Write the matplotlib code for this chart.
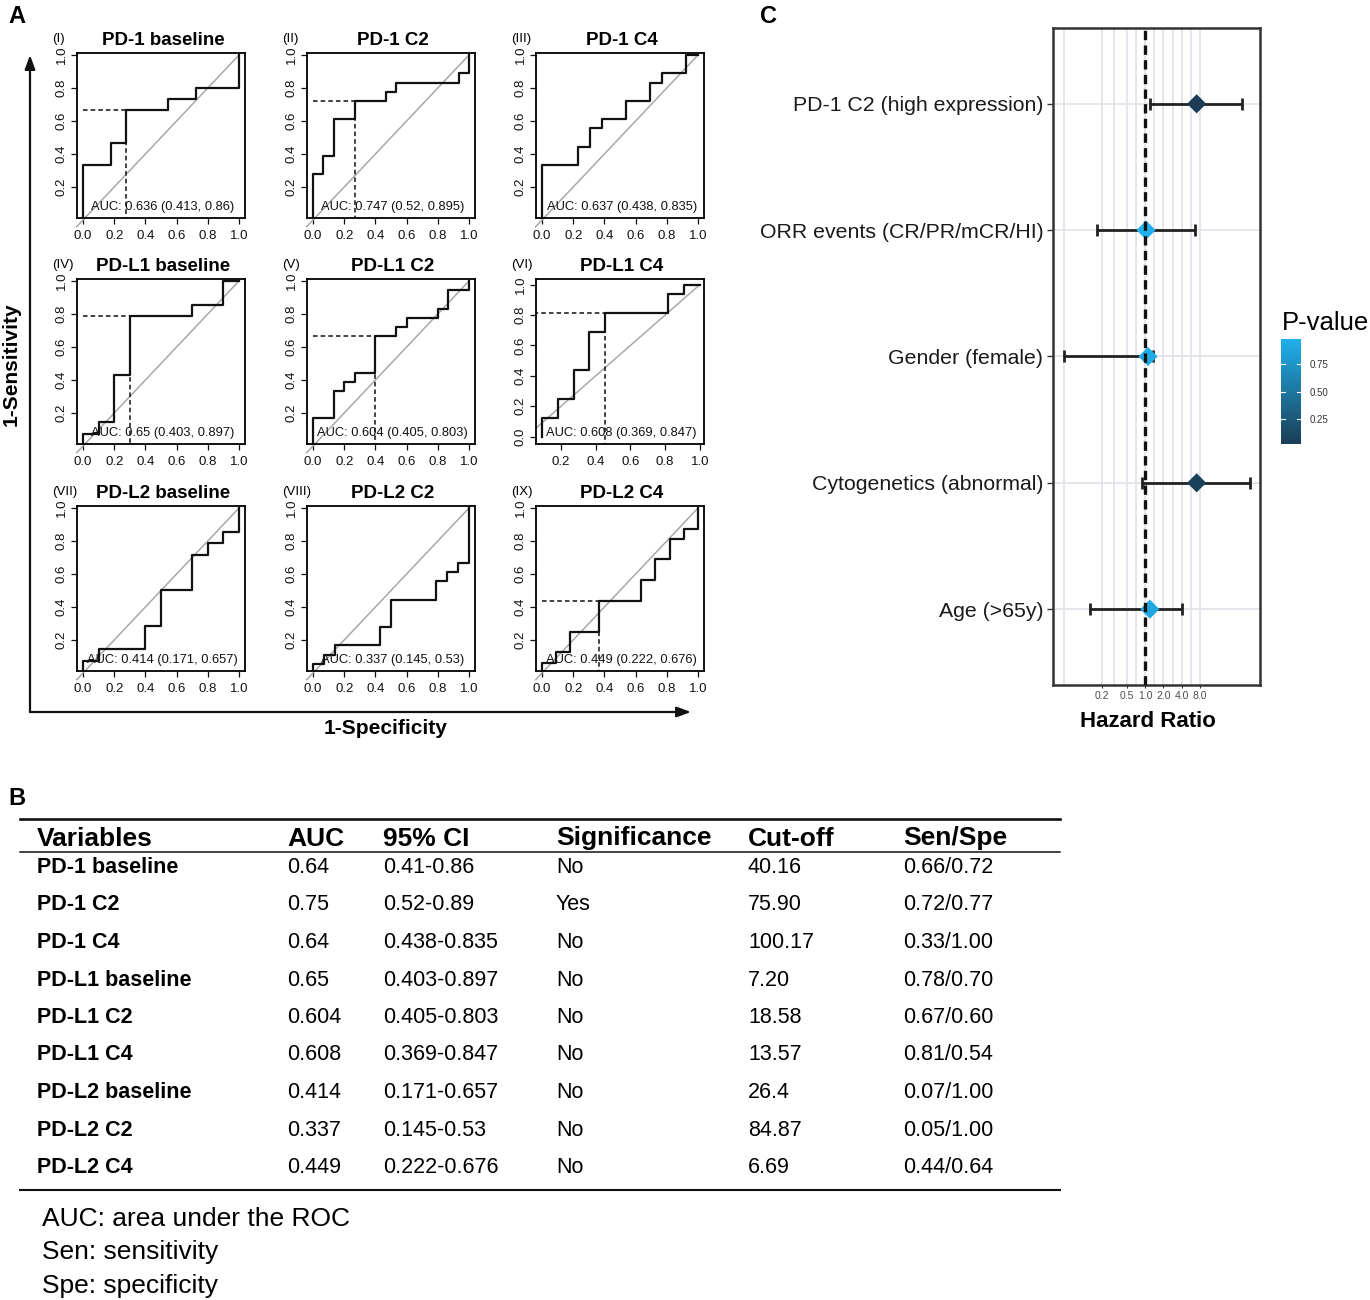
import matplotlib
matplotlib.use("Agg")
import matplotlib.pyplot as plt
from matplotlib.lines import Line2D
from matplotlib.patches import FancyArrowPatch
from matplotlib.colors import LinearSegmentedColormap, Normalize
from matplotlib.cm import ScalarMappable

plt.rcParams['font.family'] = ['Liberation Sans', 'DejaVu Sans']

# ---------------- panel A: ROC curves ----------------
roc_titles = ["PD-1 baseline", "PD-1 C2", "PD-1 C4",
              "PD-L1 baseline", "PD-L1 C2", "PD-L1 C4",
              "PD-L2 baseline", "PD-L2 C2", "PD-L2 C4"]
roc_tags = ["(I)", "(II)", "(III)", "(IV)", "(V)", "(VI)", "(VII)", "(VIII)", "(IX)"]
roc_auc = ["AUC: 0.636 (0.413, 0.86)", "AUC: 0.747 (0.52, 0.895)", "AUC: 0.637 (0.438, 0.835)",
           "AUC: 0.65 (0.403, 0.897)", "AUC: 0.604 (0.405, 0.803)", "AUC: 0.608 (0.369, 0.847)",
           "AUC: 0.414 (0.171, 0.657)", "AUC: 0.337 (0.145, 0.53)", "AUC: 0.449 (0.222, 0.676)"]

fpr_pd1_base = [0, 0, 0.182, 0.182, 0.273, 0.273, 0.545, 0.545, 0.727, 0.727, 1.0, 1.0]
tpr_pd1_base = [0, 0.333, 0.333, 0.467, 0.467, 0.667, 0.667, 0.733, 0.733, 0.8, 0.8, 1.0]
fpr_pd1_c2 = [0, 0, 0.067, 0.067, 0.133, 0.133, 0.267, 0.267, 0.467, 0.467, 0.533, 0.533, 0.933, 0.933, 1.0, 1.0]
tpr_pd1_c2 = [0, 0.278, 0.278, 0.389, 0.389, 0.611, 0.611, 0.722, 0.722, 0.778, 0.778, 0.833, 0.833, 0.889, 0.889, 1.0]
fpr_pd1_c4 = [0, 0, 0.231, 0.231, 0.308, 0.308, 0.385, 0.385, 0.538, 0.538, 0.692, 0.692, 0.769, 0.769, 0.923, 0.923, 1.0]
tpr_pd1_c4 = [0, 0.333, 0.333, 0.444, 0.444, 0.556, 0.556, 0.611, 0.611, 0.722, 0.722, 0.833, 0.833, 0.889, 0.889, 1.0, 1.0]
fpr_pdl1_base = [0, 0, 0.1, 0.1, 0.2, 0.2, 0.3, 0.3, 0.7, 0.7, 0.9, 0.9, 1.0]
tpr_pdl1_base = [0, 0.071, 0.071, 0.143, 0.143, 0.429, 0.429, 0.786, 0.786, 0.857, 0.857, 1.0, 1.0]
fpr_pdl1_c2 = [0, 0, 0.133, 0.133, 0.2, 0.2, 0.267, 0.267, 0.4, 0.4, 0.533, 0.533, 0.6, 0.6, 0.8, 0.8, 0.867, 0.867, 1.0, 1.0]
tpr_pdl1_c2 = [0, 0.167, 0.167, 0.333, 0.333, 0.389, 0.389, 0.444, 0.444, 0.667, 0.667, 0.722, 0.722, 0.778, 0.778, 0.833, 0.833, 0.944, 0.944, 1.0]
fpr_pdl1_c4 = [0.091, 0.091, 0.182, 0.182, 0.273, 0.273, 0.364, 0.364, 0.455, 0.455, 0.818, 0.818, 0.909, 0.909, 1.0]
tpr_pdl1_c4 = [0, 0.125, 0.125, 0.25, 0.25, 0.438, 0.438, 0.688, 0.688, 0.813, 0.813, 0.938, 0.938, 1.0, 1.0]
fpr_pdl2_base = [0, 0, 0.1, 0.1, 0.4, 0.4, 0.5, 0.5, 0.7, 0.7, 0.8, 0.8, 0.9, 0.9, 1.0, 1.0]
tpr_pdl2_base = [0, 0.071, 0.071, 0.143, 0.143, 0.286, 0.286, 0.5, 0.5, 0.714, 0.714, 0.786, 0.786, 0.857, 0.857, 1.0]
fpr_pdl2_c2 = [0, 0, 0.071, 0.071, 0.143, 0.143, 0.429, 0.429, 0.5, 0.5, 0.786, 0.786, 0.857, 0.857, 0.929, 0.929, 1.0, 1.0]
tpr_pdl2_c2 = [0, 0.056, 0.056, 0.111, 0.111, 0.167, 0.167, 0.278, 0.278, 0.444, 0.444, 0.556, 0.556, 0.611, 0.611, 0.667, 0.667, 1.0]
fpr_pdl2_c4 = [0, 0, 0.091, 0.091, 0.182, 0.182, 0.364, 0.364, 0.636, 0.636, 0.727, 0.727, 0.818, 0.818, 0.909, 0.909, 1.0, 1.0]
tpr_pdl2_c4 = [0, 0.063, 0.063, 0.125, 0.125, 0.25, 0.25, 0.438, 0.438, 0.563, 0.563, 0.688, 0.688, 0.813, 0.813, 0.875, 0.875, 1.0]

roc_fpr = [fpr_pd1_base, fpr_pd1_c2, fpr_pd1_c4, fpr_pdl1_base, fpr_pdl1_c2,
           fpr_pdl1_c4, fpr_pdl2_base, fpr_pdl2_c2, fpr_pdl2_c4]
roc_tpr = [tpr_pd1_base, tpr_pd1_c2, tpr_pd1_c4, tpr_pdl1_base, tpr_pdl1_c2,
           tpr_pdl1_c4, tpr_pdl2_base, tpr_pdl2_c2, tpr_pdl2_c4]

# best cut-off point of each curve (1-specificity, sensitivity)
cut_fpr = [0.273, 0.267, 0.0, 0.3, 0.4, 0.455, 0.0, 0.0, 0.364]
cut_tpr = [0.667, 0.722, 0.333, 0.786, 0.667, 0.813, 0.071, 0.056, 0.438]

# ---------------- panel B: table ----------------
tab_header = ["Variables", "AUC", "95% CI", "Significance", "Cut-off", "Sen/Spe"]
tab_vars = ["PD-1 baseline", "PD-1 C2", "PD-1 C4", "PD-L1 baseline", "PD-L1 C2",
            "PD-L1 C4", "PD-L2 baseline", "PD-L2 C2", "PD-L2 C4"]
tab_auc = ["0.64", "0.75", "0.64", "0.65", "0.604", "0.608", "0.414", "0.337", "0.449"]
tab_ci = ["0.41-0.86", "0.52-0.89", "0.438-0.835", "0.403-0.897", "0.405-0.803",
          "0.369-0.847", "0.171-0.657", "0.145-0.53", "0.222-0.676"]
tab_sig = ["No", "Yes", "No", "No", "No", "No", "No", "No", "No"]
tab_cut = ["40.16", "75.90", "100.17", "7.20", "18.58", "13.57", "26.4", "84.87", "6.69"]
tab_senspe = ["0.66/0.72", "0.72/0.77", "0.33/1.00", "0.78/0.70", "0.67/0.60",
              "0.81/0.54", "0.07/1.00", "0.05/1.00", "0.44/0.64"]
footnotes = ["AUC: area under the ROC", "Sen: sensitivity", "Spe: specificity"]

# ---------------- panel C: forest plot ----------------
hr_labels = ["PD-1 C2 (high expression)", "ORR events (CR/PR/mCR/HI)", "Gender (female)",
             "Cytogenetics (abnormal)", "Age (>65y)"]
hr_est = [7.0, 1.04, 1.12, 7.0, 1.2]
hr_low = [1.2, 0.165, 0.047, 0.89, 0.125]
hr_high = [39.0, 6.5, 1.35, 52.0, 4.1]
hr_p = [0.027, 0.973, 0.93, 0.05, 0.90]

W, H = 1370, 1300
fig = plt.figure(figsize=(W / 100, H / 100), dpi=100)


def rect(left, top, width, height):
    return [left / W, 1 - (top + height) / H, width / W, height / H]


def ftext(x, y, s, **kw):
    # small nudge: matplotlib's centred text sits a bit high
    fig.text(x / W, 1 - (y + 2.5) / H, s, **kw)


# ---- A ----
col_x0 = [83, 313, 542]
row_y1 = [55, 281, 508]
ux, uy = 156, 165
ticks = [0.0, 0.2, 0.4, 0.6, 0.8, 1.0]

for i in range(9):
    r, c = divmod(i, 3)
    left = col_x0[c] - 0.04 * ux
    top = row_y1[r] - 0.015 * uy
    ax = fig.add_axes(rect(left, top, 1.08 * ux, uy))
    fpr, tpr = roc_fpr[i], roc_tpr[i]
    if min(fpr) > 0:
        ax.set_xlim(0.055, 1.025)
        ax.set_ylim(-0.045, 1.04)
        ax.plot([0, 1], [0, 1], color='#a8a8a8', lw=1.1)
        xt, yt = ticks[1:], ticks
    else:
        ax.set_xlim(-0.04, 1.04)
        ax.set_ylim(0.015, 1.015)
        ax.plot([-0.04, 1], [-0.04, 1], color='#a8a8a8', lw=1.1, clip_on=False)
        xt, yt = ticks, ticks[1:]
    ax.plot(fpr, tpr, color='#111111', lw=1.6)
    cf, ct = cut_fpr[i], cut_tpr[i]
    ax.plot([0, cf], [ct, ct], color='#111111', lw=1.1, ls=(0, (3, 2)))
    ax.plot([cf, cf], [ct, -0.2], color='#111111', lw=1.1, ls=(0, (3, 2)))
    ax.text(0.51, 0.065, roc_auc[i], transform=ax.transAxes, ha='center', va='center',
            fontsize=9.3, color='#111111')
    ax.set_xticks(xt)
    ax.set_xticklabels(['%.1f' % v for v in xt])
    ax.set_yticks(yt)
    ax.set_yticklabels(['%.1f' % v for v in yt], rotation=90, va='center')
    ax.tick_params(direction='out', length=4, width=0.9, labelsize=9.5,
                   colors='#111111')
    ax.tick_params(axis='x', pad=5)
    ax.tick_params(axis='y', pad=2.5)
    for s in ax.spines.values():
        s.set_linewidth(1.3)
    ftext(col_x0[c] + 0.5 * ux + 2, top - 15, roc_titles[i], ha='center', va='center',
          fontsize=13.5, fontweight='bold')
    ftext(left - 25, top - 16, roc_tags[i], ha='left', va='center', fontsize=9.5)

# big axis arrows of panel A
for end in [(30, 55), (691, 712)]:
    fig.add_artist(FancyArrowPatch((30 / W, 1 - 712 / H), (end[0] / W, 1 - end[1] / H),
                                   transform=fig.transFigure,
                                   arrowstyle='-|>,head_length=0.6,head_width=0.22',
                                   mutation_scale=14, lw=1.6, color='#111111',
                                   shrinkA=0, shrinkB=0))
ftext(11, 362, "1-Sensitivity", rotation=90, ha='center', va='center',
      fontsize=15, fontweight='bold')
ftext(386, 726, "1-Specificity", ha='center', va='center', fontsize=15, fontweight='bold')

# ---- C ----
axc = fig.add_axes(rect(1053, 28, 207, 657))
ypos = list(range(len(hr_labels), 0, -1))
cmap = LinearSegmentedColormap.from_list('pval', ['#1b3d55', '#20b0ec'])
norm = Normalize(0.027, 0.973)
axc.set_xscale('log', base=2)
axc.set_xlim(2 ** -5, 2 ** 6.25)
axc.set_ylim(0.4, len(hr_labels) + 0.6)
axc.set_xticks([0.2, 0.5, 1, 2, 4, 8])
axc.set_xticklabels(['0.2', '0.5', '1.0', '2.0', '4.0', '8.0'])
axc.set_xticks([2 ** -4.4, 2 ** -1.66, 2 ** -0.5, 2 ** 0.5, 2 ** 1.5, 2 ** 2.5], minor=True)
axc.xaxis.set_minor_formatter(plt.NullFormatter())
axc.set_yticks(ypos)
axc.set_yticklabels(hr_labels)
axc.set_axisbelow(True)
axc.grid(which='both', axis='x', color='#e3e3eb', lw=1.3)
axc.grid(which='major', axis='y', color='#e3e3eb', lw=1.3)
axc.tick_params(axis='y', length=4, width=1, colors='#333333', labelsize=15.3,
                labelcolor='#1a1a1a', pad=3)
axc.tick_params(axis='x', which='major', length=2.5, width=0.8, colors='#333333',
                labelsize=7.5, labelcolor='#4d4d4d', pad=2)
axc.tick_params(axis='x', which='minor', length=0)
xerr = [[e - lo for e, lo in zip(hr_est, hr_low)], [hi - e for e, hi in zip(hr_est, hr_high)]]
axc.errorbar(hr_est, ypos, xerr=xerr, fmt='none', ecolor='#222222', elinewidth=2,
             capsize=4, capthick=2, zorder=3)
axc.scatter(hr_est, ypos, c=hr_p, cmap=cmap, norm=norm, marker='D', s=95,
            linewidths=0, zorder=4)
axc.axvline(1, color='#111111', lw=2.4, ls=(0, (2.8, 1.6)), zorder=5)
for s in axc.spines.values():
    s.set_linewidth(1.8)
    s.set_color('#333333')
ftext(1148, 719, "Hazard Ratio", ha='center', va='center', fontsize=16, fontweight='bold')

cax = fig.add_axes(rect(1281, 339, 20, 105))
cb = fig.colorbar(ScalarMappable(norm=norm, cmap=cmap), cax=cax)
cb.outline.set_visible(False)
cb.set_ticks([0.25, 0.5, 0.75])
cb.set_ticklabels(['0.25', '0.50', '0.75'])
cax.tick_params(length=0, labelsize=7, labelcolor='#333333', pad=6)
for v in [0.25, 0.5, 0.75]:
    cax.axhline(v, 0, 0.2, color='white', lw=0.8)
    cax.axhline(v, 0.8, 1, color='white', lw=0.8)
ftext(1282, 320, "P-value", ha='left', va='center', fontsize=18.5)

# ---- B ----
tab_x = [37, 287, 383, 556, 748, 903]
fig.add_artist(Line2D([20 / W, 1060 / W], [1 - 819 / H] * 2, color='#111111', lw=1.9))
fig.add_artist(Line2D([20 / W, 1060 / W], [1 - 852 / H] * 2, color='#111111', lw=1.1))
fig.add_artist(Line2D([20 / W, 1060 / W], [1 - 1190 / H] * 2, color='#111111', lw=1.5))
for x, h in zip(tab_x, tab_header):
    ftext(x, 836, h, ha='left', va='center', fontsize=19, fontweight='bold')
cols = [tab_auc, tab_ci, tab_sig, tab_cut, tab_senspe]
for j, name in enumerate(tab_vars):
    y = 865 + j * 37.5
    ftext(tab_x[0], y, name, ha='left', va='center', fontsize=15.5, fontweight='bold')
    for x, col in zip(tab_x[1:], cols):
        ftext(x, y, col[j], ha='left', va='center', fontsize=15.5)
for k, note in enumerate(footnotes):
    ftext(42, 1216 + k * 34, note, ha='left', va='center', fontsize=19)

# panel letters
ftext(8, 14, "A", ha='left', va='center', fontsize=17, fontweight='bold')
ftext(8, 796, "B", ha='left', va='center', fontsize=17, fontweight='bold')
ftext(760, 14, "C", ha='left', va='center', fontsize=17, fontweight='bold')

fig.savefig("out.png", dpi=100, facecolor='white')
